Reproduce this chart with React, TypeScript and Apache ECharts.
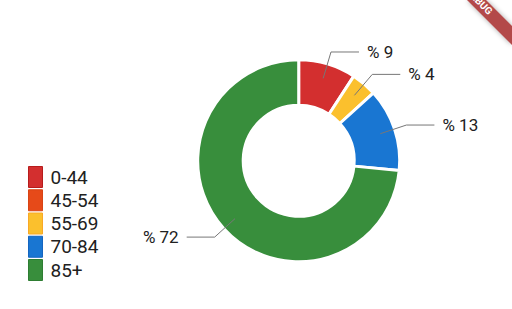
import React, { useEffect, useRef } from 'react';
import * as echarts from 'echarts';

const categories = ['0-44', '45-54', '55-69', '70-84', '85+'];
const values = [9, 0, 4, 13, 72];
const colors = ['#D32F2F', '#E64A19', '#FBC02D', '#1976D2', '#388E3C'];
const legendBorders = ['#B71C1C', '#D84315', '#F9A825', '#1565C0', '#2E7D32'];
const bannerText = 'DEBUG';

export default function App() {
  const ref = useRef<HTMLDivElement>(null);
  useEffect(() => {
    const chart = echarts.init(ref.current!, null, { renderer: 'svg' });
    const center = [298.7, 160.8];
    chart.setOption({
      animation: false,
      backgroundColor: '#ffffff',
      legend: {
        orient: 'vertical',
        left: 28,
        top: 166,
        padding: 0,
        itemWidth: 14,
        itemHeight: 21,
        itemGap: 1.25,
        icon: 'rect',
        selectedMode: false,
        itemStyle: { borderWidth: 1 },
        data: categories.map((c, i) => ({
          name: c,
          itemStyle: { color: colors[i], borderColor: legendBorders[i], borderWidth: 1 },
        })),
        textStyle: { fontFamily: 'Roboto', fontSize: 19, color: '#212121', lineHeight: 21, padding: [0, 0, 0, 3] },
      },
      series: [
        {
          type: 'pie',
          z: 2,
          center,
          radius: [55.5, 101],
          startAngle: 90,
          clockwise: true,
          avoidLabelOverlap: false,
          label: { show: false },
          labelLine: { show: false },
          emphasis: { disabled: true },
          itemStyle: { borderColor: '#ffffff', borderWidth: 3 },
          data: categories.map((c, i) => ({
            name: c,
            value: values[i],
            itemStyle: { color: colors[i], borderColor: '#ffffff', borderWidth: values[i] === 0 ? 0 : 3 },
          })),
        },
        {
          type: 'pie',
          z: 5,
          center,
          radius: [0, 86],
          startAngle: 90,
          clockwise: true,
          silent: true,
          legendHoverLink: false,
          avoidLabelOverlap: false,
          emphasis: { disabled: true },
          itemStyle: { color: 'rgba(0,0,0,0)', borderWidth: 0 },
          label: {
            show: true,
            position: 'outside',
            formatter: '% {c}',
            fontFamily: 'Roboto',
            fontSize: 17,
            color: '#212121',
            distanceToLabelLine: 8,
          },
          labelLine: {
            show: true,
            length: 27.5,
            length2: 28,
            lineStyle: { color: '#777777', width: 1 },
          },
          data: categories.map((c, i) => ({
            name: c,
            value: values[i],
            itemStyle: { color: 'rgba(0,0,0,0)' },
            label: { show: values[i] !== 0 },
            labelLine: { show: values[i] !== 0 },
          })),
        },
      ],
      graphic: [
        {
          type: 'polygon',
          silent: true,
          shape: { points: [[467, 0], [486, 0], [512, 26], [512, 45]] },
          style: { fill: '#B34848', shadowBlur: 5, shadowColor: 'rgba(0,0,0,0.35)' },
        },
        {
          type: 'text',
          silent: true,
          x: 479.5,
          y: 1.5,
          rotation: -Math.PI / 4,
          style: {
            text: bannerText,
            fill: '#ffffff',
            font: 'bold 10px Roboto',
            align: 'center',
            verticalAlign: 'middle',
          },
        },
      ],
    });
    return () => chart.dispose();
  }, []);
  return <div ref={ref} style={{ position: 'fixed', left: 0, top: 0, width: 512, height: 309 }} />;
}
